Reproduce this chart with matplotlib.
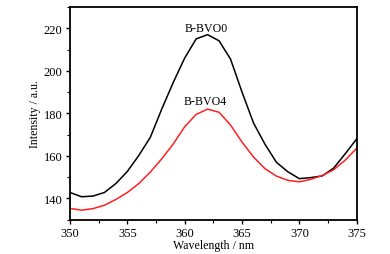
import matplotlib
matplotlib.use("Agg")
import matplotlib.pyplot as plt
from matplotlib.ticker import MultipleLocator

wavelength = list(range(350, 376))
bvo0 = [142.8, 140.8, 141.1, 142.8, 147.0, 152.7, 160.2, 168.7, 182.0, 194.5,
        206.0, 215.0, 217.0, 214.1, 205.5, 190.0, 175.5, 165.5, 157.0, 152.5,
        149.3, 149.8, 150.6, 154.3, 161.0, 168.0]
bvo4 = [135.3, 134.5, 135.2, 136.8, 139.5, 142.8, 147.0, 152.4, 158.6, 165.6,
        173.7, 179.5, 182.0, 180.5, 174.5, 166.5, 159.5, 154.0, 150.5, 148.5,
        147.8, 149.0, 150.8, 153.5, 158.0, 163.6]

plt.rcParams['font.family'] = ['Liberation Serif', 'DejaVu Serif']
plt.rcParams['font.size'] = 8.6

fig = plt.figure(figsize=(3.9, 2.55), dpi=100)
ax = fig.add_axes([0.1795, 0.1345, 0.7351, 0.8341])

ax.plot(wavelength, bvo0, color="black", lw=1.1)
ax.plot(wavelength, bvo4, color="#ff2020", lw=1.1)

ax.text(361.9, 220.3, "B-BVO0", ha="center", va="center")
ax.text(361.8, 185.7, "B-BVO4", ha="center", va="center")

ax.set_xlim(350, 375)
ax.set_ylim(130, 230)
ax.xaxis.set_major_locator(MultipleLocator(5))
ax.xaxis.set_minor_locator(MultipleLocator(2.5))
ax.yaxis.set_major_locator(MultipleLocator(20))
ax.yaxis.set_minor_locator(MultipleLocator(10))
ax.set_yticks(range(140, 221, 20))
ax.tick_params(which="major", direction="out", length=3, width=1.0, top=False, right=False,
               labelsize=9, pad=2.5)
ax.tick_params(which="minor", direction="out", length=2, width=0.8, top=False, right=False)
for s in ax.spines.values():
    s.set_linewidth(1.3)

ax.set_xlabel("Wavelength / nm", labelpad=0)
ax.set_ylabel("Intensity / a.u.", labelpad=2)

fig.savefig("out.png", dpi=100)
